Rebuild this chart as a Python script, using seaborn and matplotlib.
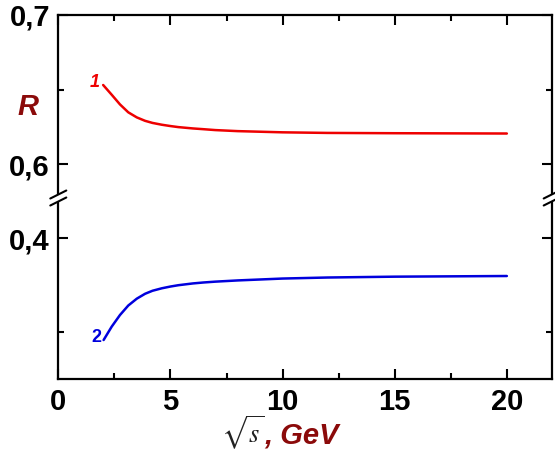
import numpy as np
import pandas as pd
import seaborn as sns
import matplotlib
matplotlib.use("Agg")
import matplotlib.pyplot as plt
from matplotlib.ticker import MultipleLocator, FuncFormatter
from matplotlib.lines import Line2D
from matplotlib.patches import Polygon

# ---- data ----
x_red = [2.0, 2.38, 2.75, 3.12, 3.5, 3.87, 4.2, 4.61, 5.0, 5.35, 6.0, 6.47, 7.0,
         8.0, 10.0, 12.0, 15.0, 20.0]
r_red = [0.6531, 0.6466, 0.6401, 0.6348, 0.6314, 0.6291, 0.6277, 0.6265, 0.6256,
         0.6249, 0.6240, 0.6235, 0.6229, 0.6222, 0.6214, 0.6210, 0.6208, 0.6206]
x_blue = [2.02, 2.38, 2.75, 3.12, 3.5, 3.87, 4.2, 4.61, 5.0, 5.35, 6.0, 6.47, 7.0,
          8.0, 10.0, 12.0, 15.0, 20.0]
r_blue = [0.2918, 0.306, 0.3184, 0.3285, 0.3358, 0.3410, 0.3442, 0.3468, 0.3487,
          0.3501, 0.3520, 0.3530, 0.3539, 0.3552, 0.3572, 0.3583, 0.3592, 0.3599]
curve_labels = ["1", "2"]
x_ticks = [0, 5, 10, 15, 20]

sns.set_style("ticks")
plt.rcParams['font.family'] = ['Liberation Sans', 'DejaVu Sans']
plt.rcParams['mathtext.fontset'] = 'stix'
plt.rcParams['text.color'] = 'black'
plt.rcParams['xtick.color'] = 'black'
plt.rcParams['ytick.color'] = 'black'
plt.rcParams['xtick.labelcolor'] = 'black'
plt.rcParams['ytick.labelcolor'] = 'black'

W, H = 555, 457
fig = plt.figure(figsize=(W / 100, H / 100), dpi=100)
left, right = 58.3 / W, 551.7 / W
top_y, mid_y, bot_y = 1 - 15 / H, 1 - 198 / H, 1 - 379.3 / H
ax_t = fig.add_axes([left, mid_y, right - left, top_y - mid_y])
ax_b = fig.add_axes([left, bot_y, right - left, mid_y - bot_y])

df_r = pd.DataFrame({"x": x_red, "R": r_red})
df_b = pd.DataFrame({"x": x_blue, "R": r_blue})
sns.lineplot(data=df_r, x="x", y="R", ax=ax_t, color="#ee0000", lw=1.8)
sns.lineplot(data=df_b, x="x", y="R", ax=ax_b, color="#0000dd", lw=1.8)

comma = FuncFormatter(lambda v, p: f"{v:.1f}".replace(".", ","))
for ax in (ax_t, ax_b):
    ax.set_xlim(0, 22)
    ax.set_xlabel("")
    ax.set_ylabel("")
    for s in ax.spines.values():
        s.set_linewidth(1.6)
        s.set_color("black")
    ax.xaxis.set_major_locator(MultipleLocator(5))
    ax.xaxis.set_minor_locator(MultipleLocator(2.5))
    ax.tick_params(which="both", direction="in", top=True, right=True,
                   width=1.5, color="black", labelcolor="black")
    ax.tick_params(which="major", length=7, labelsize=21, pad=6)
    ax.tick_params(which="minor", length=4)

ax_t.set_ylim(0.5774, 0.7)
ax_t.yaxis.set_major_locator(MultipleLocator(0.1))
ax_t.yaxis.set_minor_locator(MultipleLocator(0.05))
ax_t.yaxis.set_major_formatter(comma)
ax_t.spines["bottom"].set_visible(False)
ax_t.tick_params(axis="x", which="both", bottom=False, labelbottom=False)

ax_b.set_ylim(0.25, 0.4429)
ax_b.yaxis.set_major_locator(MultipleLocator(0.2))
ax_b.yaxis.set_minor_locator(MultipleLocator(0.1))
ax_b.yaxis.set_major_formatter(comma)
ax_b.spines["top"].set_visible(False)
ax_b.tick_params(axis="x", which="both", top=False)
ax_b.set_xticks(x_ticks)
ax_b.set_xticklabels([str(v) for v in x_ticks])
for lab in (ax_b.get_yticklabels() + ax_t.get_yticklabels()
            + ax_b.get_xticklabels()):
    lab.set_fontweight("bold")
    lab.set_fontsize(21)
    lab.set_color("black")

# curve numbers
ax_t.annotate(curve_labels[0], (x_red[0], r_red[0]), xytext=(-6, 2),
              textcoords="offset points", color="#ee0000", fontsize=13,
              fontweight="bold", fontstyle="italic", ha="center", va="center")
ax_b.annotate(curve_labels[1], (x_blue[0], r_blue[0]), xytext=(-5, 2),
              textcoords="offset points", color="#0000dd", fontsize=13,
              fontweight="bold", ha="center", va="center")

# axis titles
dark_red = "#8b0a0a"
fig.text(28 / W, 1 - 107 / H, "R", color=dark_red, fontsize=21,
         fontweight="bold", fontstyle="italic", ha="center", va="center")
fig.text(264 / W, 1 - 443 / H, r"$\sqrt{s}$", color="#222222", fontsize=19,
         ha="right", va="baseline")
fig.text(264 / W, 1 - 443 / H, ", GeV", color=dark_red, fontsize=21,
         fontweight="bold", fontstyle="italic", ha="left", va="baseline")

# break marks on both side spines
for xs in (left, right):
    cx, cy = xs * W, 198
    dx, dy, gap = 8, 4, 3.5
    poly = Polygon([(px / W, 1 - py / H) for px, py in
                    [(cx - dx, cy + dy - gap), (cx + dx, cy - dy - gap),
                     (cx + dx, cy - dy + gap), (cx - dx, cy + dy + gap)]],
                   closed=True, transform=fig.transFigure, facecolor="white",
                   edgecolor="none", zorder=10)
    fig.add_artist(poly)
    for off in (-gap, gap):
        fig.add_artist(Line2D([(cx - dx) / W, (cx + dx) / W],
                              [1 - (cy + dy + off) / H, 1 - (cy - dy + off) / H],
                              transform=fig.transFigure, color="black", lw=1.5,
                              zorder=11))

fig.savefig("out.png", dpi=100)
